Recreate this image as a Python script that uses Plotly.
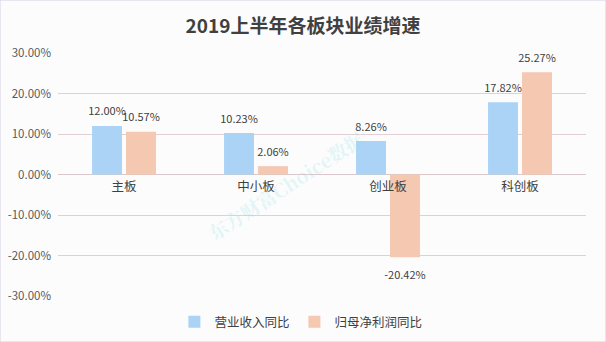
import plotly.graph_objects as go

categories = ["主板", "中小板", "创业板", "科创板"]
revenue_yoy = [12.00, 10.23, 8.26, 17.82]
profit_yoy = [10.57, 2.06, -20.42, 25.27]
series_names = ["营业收入同比", "归母净利润同比"]
tick_vals = [-30, -20, -10, 0, 10, 20, 30]
tick_text = ["-30.00%", "-20.00%", "-10.00%", "0.00%", "10.00%", "20.00%", "30.00%"]

FONT = "Noto Sans CJK SC, Microsoft YaHei, sans-serif"
BLUE = "#aad3f6"
ORANGE = "#f5c8b2"
LBL = "<span style='font-size:11px'>%{y:.2f}%</span>"


def label_templates(vals):
    return [(LBL + "<br> ") if v >= 0 else (" <br> <br>" + LBL) for v in vals]


fig = go.Figure()
for name, vals, col in [(series_names[0], revenue_yoy, BLUE), (series_names[1], profit_yoy, ORANGE)]:
    fig.add_trace(go.Bar(
        x=categories, y=vals, name=name, showlegend=False,
        marker=dict(color=col, line=dict(width=0)),
        texttemplate=label_templates(vals), textposition="outside", constraintext="none",
        textfont=dict(size=5, color="#404040", family=FONT), cliponaxis=False,
    ))
for name, col in [(series_names[0], BLUE), (series_names[1], ORANGE)]:
    fig.add_trace(go.Scatter(
        x=[None], y=[None], mode="markers", name=name,
        marker=dict(symbol="square", size=8, color=col),
    ))

fig.update_layout(
    width=606, height=342,
    margin=dict(l=58, r=20, t=53, b=46, autoexpand=False),
    paper_bgcolor="#fcfcfd", plot_bgcolor="rgba(0,0,0,0)",
    font=dict(family=FONT, color="#595959", size=11),
    title=dict(text="<b>2019上半年各板块业绩增速</b>", x=0.5, xanchor="center",
               y=1 - 26 / 342, yanchor="middle",
               font=dict(size=19, color="#404040", family=FONT)),
    barmode="group", bargap=0.485, bargroupgap=0.12,
    showlegend=True,
    legend=dict(orientation="h", x=0.46, xanchor="center", y=-26/243, yanchor="middle",
                font=dict(size=12.5, color="#404040", family=FONT),
                itemwidth=30, itemsizing="constant", tracegroupgap=0,
                bgcolor="rgba(0,0,0,0)"),
    xaxis=dict(anchor="free", position=0.5, showgrid=False, showline=False,
               ticks="", tickfont=dict(size=12.5, color="#404040", family=FONT),
               ticklabelstandoff=3),
    yaxis=dict(range=[-30, 30], tickvals=tick_vals, ticktext=tick_text,
               showgrid=True, gridcolor="#e3cfd3", gridwidth=1,
               zeroline=True, zerolinecolor="#d9c7cb", zerolinewidth=1,
               showline=False, ticks="", ticklabelstandoff=6,
               tickfont=dict(size=11.5, color="#595959", family=FONT)),
    shapes=[dict(type="rect", xref="paper", yref="paper", x0=-58/528, x1=1+20/528,
                 y0=-46/243, y1=1+53/243, line=dict(color="#d4d0e4", width=1))],
    annotations=[dict(text="<b>东方财富Choice数据</b>", xref="paper", yref="paper",
                      x=(285-58)/528, y=(296-185)/243, showarrow=False, textangle=-33,
                      font=dict(size=19, color="rgba(150,225,225,0.25)",
                                family="Noto Serif CJK SC, Noto Sans CJK SC, serif"))],
)

fig.write_html("out.html")
